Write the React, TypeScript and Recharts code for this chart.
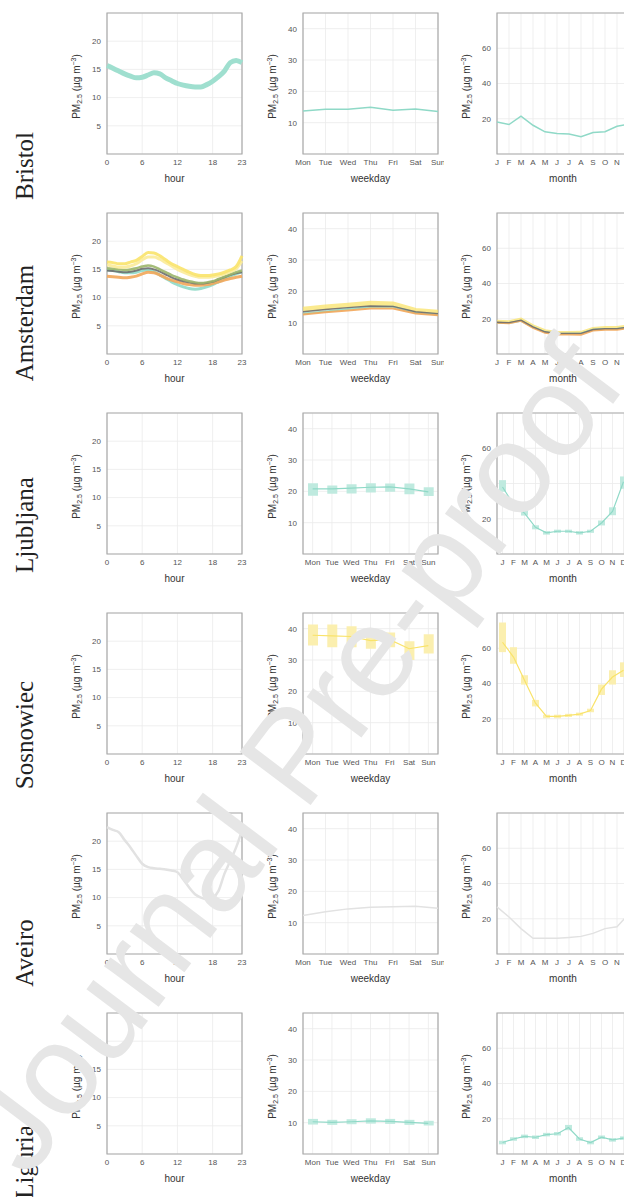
import React from "react";
import {
  ComposedChart,
  Line,
  Bar,
  XAxis,
  YAxis,
  CartesianGrid,
  ReferenceArea,
} from "recharts";

// categories
const hours = [0, 1, 2, 3, 4, 5, 6, 7, 8, 9, 10, 11, 12, 13, 14, 15, 16, 17, 18, 19, 20, 21, 22, 23];
const weekdays = ["Mon", "Tue", "Wed", "Thu", "Fri", "Sat", "Sun"];
const months = ["J", "F", "M", "A", "M", "J", "J", "A", "S", "O", "N", "D"];
const cities = ["Bristol", "Amsterdam", "Ljubljana", "Sosnowiec", "Aveiro", "Liguria"];

// tick labels
const hourTicks = [0, 6, 12, 18, 23];
const hourYTicks = [5, 10, 15, 20];
const weekYTicks = [10, 20, 30, 40];
const monthYTicks = [20, 40, 60];

// Bristol
const bristolHour = [15.7, 15.2, 14.7, 14.2, 13.8, 13.5, 13.6, 14.0, 14.4, 14.2, 13.5, 13.0, 12.5, 12.2, 12.0, 11.9, 11.9, 12.3, 12.9, 13.7, 14.7, 16.2, 16.6, 16.2];
const bristolWeek = [13.7, 14.3, 14.3, 14.9, 14.0, 14.4, 13.6];
const bristolMonth = [18.1, 16.7, 21.5, 16.3, 12.6, 11.7, 11.3, 9.8, 12.2, 12.6, 15.7, 16.9];

// Amsterdam (several stations)
const amsHourYellow = [16.3, 16.2, 16.0, 16.0, 16.3, 16.6, 17.3, 18.0, 17.9, 17.4, 16.7, 16.0, 15.5, 15.0, 14.5, 14.1, 13.9, 13.9, 14.0, 14.2, 14.5, 14.9, 15.5, 17.4];
const amsHourPale = [15.8, 15.6, 15.4, 15.4, 15.6, 16.0, 16.7, 17.2, 17.2, 16.8, 16.2, 15.6, 15.0, 14.5, 14.1, 13.8, 13.6, 13.6, 13.7, 13.9, 14.2, 14.6, 15.1, 16.5];
const amsHourOlive = [15.2, 15.1, 15.0, 14.9, 15.0, 15.2, 15.5, 15.7, 15.5, 15.0, 14.5, 14.0, 13.6, 13.2, 12.9, 12.7, 12.6, 12.7, 12.9, 13.3, 13.7, 14.1, 14.5, 14.8];
const amsHourGray = [14.8, 14.7, 14.6, 14.5, 14.6, 14.8, 15.1, 15.2, 15.0, 14.6, 14.1, 13.6, 13.2, 12.9, 12.7, 12.5, 12.5, 12.6, 12.8, 13.2, 13.6, 14.0, 14.3, 14.5];
const amsHourOrange = [13.8, 13.7, 13.6, 13.5, 13.6, 13.8, 14.2, 14.5, 14.4, 14.0, 13.5, 13.1, 12.8, 12.5, 12.3, 12.2, 12.2, 12.3, 12.5, 12.8, 13.1, 13.4, 13.6, 13.8];
const amsHourTeal = [14.9, 14.8, 14.6, 14.4, 14.4, 14.5, 14.8, 14.9, 14.6, 14.0, 13.4, 12.8, 12.3, 11.9, 11.6, 11.5, 11.6, 11.9, 12.3, 12.8, 13.3, 13.8, 14.2, 14.6];
const amsWeekYellow = [14.3, 15.0, 15.6, 16.2, 16.0, 13.9, 13.3];
const amsWeekTeal = [12.9, 13.6, 14.4, 15.0, 15.1, 13.2, 12.6];
const amsWeekGray = [13.5, 14.2, 14.8, 15.3, 15.2, 13.5, 12.9];
const amsWeekOrange = [12.6, 13.3, 13.9, 14.5, 14.5, 12.9, 12.4];
const amsMonthYellow = [18.6, 18.3, 19.8, 16.0, 13.2, 12.2, 12.2, 12.3, 14.5, 15.0, 15.0, 16.0];
const amsMonthTeal = [17.6, 17.6, 18.8, 15.2, 12.4, 11.4, 11.5, 11.6, 13.8, 14.2, 14.2, 15.2];
const amsMonthGray = [18.0, 17.8, 19.2, 15.4, 12.6, 11.7, 11.7, 11.7, 13.9, 14.4, 14.4, 15.4];
const amsMonthOrange = [17.8, 17.5, 18.8, 14.9, 12.0, 11.0, 11.0, 10.9, 13.3, 13.8, 13.8, 14.8];

// Ljubljana
const ljuWeekMed = [20.8, 20.8, 21.0, 21.3, 21.4, 20.8, 19.8];
const ljuWeekLo = [18.6, 19.2, 19.3, 19.6, 19.9, 19.1, 18.5];
const ljuWeekHi = [22.6, 21.9, 22.3, 22.6, 22.5, 22.5, 21.3];
const ljuMonthMed = [38.0, 28.2, 23.2, 15.1, 12.0, 12.9, 12.9, 12.0, 12.9, 17.6, 24.1, 41.0];
const ljuMonthLo = [35.3, 26.5, 21.8, 14.0, 11.0, 12.0, 12.0, 11.0, 12.0, 16.2, 22.0, 37.0];
const ljuMonthHi = [41.9, 30.0, 24.8, 16.3, 13.0, 13.8, 13.8, 13.0, 13.8, 19.0, 26.5, 44.0];

// Sosnowiec
const sosWeekMed = [37.9, 37.7, 37.5, 36.2, 36.5, 33.6, 34.6];
const sosWeekLo = [34.6, 34.1, 34.1, 33.6, 34.1, 30.0, 32.1];
const sosWeekHi = [41.3, 41.3, 40.8, 38.8, 38.8, 36.0, 38.2];
const sosMonthMed = [63.4, 55.0, 41.9, 28.8, 21.3, 21.3, 21.9, 22.6, 24.7, 36.8, 43.7, 47.5];
const sosMonthLo = [57.8, 51.2, 39.4, 27.0, 20.3, 20.3, 21.0, 21.7, 23.7, 33.5, 39.4, 43.7];
const sosMonthHi = [74.6, 60.6, 44.7, 30.7, 22.3, 22.3, 22.8, 23.5, 25.7, 39.4, 47.5, 52.0];

// Aveiro
const aveHour = [22.5, 22.0, 21.6, 20.2, 18.9, 17.4, 16.0, 15.4, 15.2, 15.1, 15.0, 14.8, 14.5, 13.2, 11.8, 10.6, 10.0, 9.7, 10.0, 11.2, 14.2, 16.5, 18.9, 21.9];
const aveWeek = [12.3, 13.5, 14.4, 14.9, 15.1, 15.2, 14.6];
const aveMonth = [26.7, 21.0, 14.4, 8.9, 8.9, 8.9, 9.4, 10.0, 11.7, 14.4, 15.5, 22.8];

// Liguria
const ligWeekMed = [10.3, 10.1, 10.3, 10.6, 10.4, 10.1, 9.8];
const ligWeekLo = [9.4, 9.3, 9.5, 9.7, 9.6, 9.3, 9.1];
const ligWeekHi = [11.2, 10.9, 11.1, 11.4, 11.2, 10.9, 10.6];
const ligMonthMed = [6.5, 8.5, 10.0, 9.5, 11.0, 11.5, 15.0, 8.5, 6.5, 9.5, 8.0, 9.0];
const ligMonthLo = [5.5, 7.5, 9.0, 8.5, 10.0, 10.5, 13.5, 7.5, 5.5, 8.5, 7.0, 8.0];
const ligMonthHi = [7.5, 9.5, 11.0, 10.5, 12.0, 12.5, 16.5, 9.5, 7.5, 10.5, 9.0, 10.0];

const TEAL = "#8fd9c7";
const TEAL_SOFT = "#9fdfcf";
const TEAL_BOX = "#bfeadf";
const YELLOW = "#f9e36a";
const YELLOW_BOX = "#fbefaf";
const PALE = "#fbeb98";
const ORANGE = "#f2a659";
const OLIVE = "#9bb56a";
const GRAY = "#6e6e6e";
const FADED = "#e2e2e2";

const hourData = hours.map((h, i) => ({
  h,
  bristol: bristolHour[i],
  ay: amsHourYellow[i],
  ap: amsHourPale[i],
  ao: amsHourOlive[i],
  ag: amsHourGray[i],
  aor: amsHourOrange[i],
  at: amsHourTeal[i],
  ave: aveHour[i],
}));

const weekData = weekdays.map((d, i) => ({
  k: i,
  bristol: bristolWeek[i],
  ay: amsWeekYellow[i],
  at: amsWeekTeal[i],
  ag: amsWeekGray[i],
  aor: amsWeekOrange[i],
  lju: ljuWeekMed[i],
  ljuBox: [ljuWeekLo[i], ljuWeekHi[i]],
  sos: sosWeekMed[i],
  sosBox: [sosWeekLo[i], sosWeekHi[i]],
  ave: aveWeek[i],
  lig: ligWeekMed[i],
  ligBox: [ligWeekLo[i], ligWeekHi[i]],
}));

const monthData = months.map((m, i) => ({
  k: i,
  bristol: bristolMonth[i],
  ay: amsMonthYellow[i],
  at: amsMonthTeal[i],
  ag: amsMonthGray[i],
  aor: amsMonthOrange[i],
  lju: ljuMonthMed[i],
  ljuBox: [ljuMonthLo[i], ljuMonthHi[i]],
  sos: sosMonthMed[i],
  sosBox: [sosMonthLo[i], sosMonthHi[i]],
  ave: aveMonth[i],
  lig: ligMonthMed[i],
  ligBox: [ligMonthLo[i], ligMonthHi[i]],
}));

type Series = { key: string; color: string; width: number; opacity?: number };
type Box = { key: string; color: string };

const PLOT_H = 141;
const AXIS_W = 55;
const ROW_TOPS = [13, 213, 413, 613, 813, 1013];

const kinds: Record<string, any> = {
  hour: { left: 107, w: 135, domain: [0, 25], ticks: hourYTicks, title: "hour", data: hourData, barSize: 0 },
  week: { left: 303, w: 135, domain: [0, 45], ticks: weekYTicks, title: "weekday", data: weekData, barSize: 10 },
  month: { left: 497, w: 132, domain: [0, 80], ticks: monthYTicks, title: "month", data: monthData, barSize: 7 },
};

const tickStyle = { fontSize: 8, fill: "#555", fontFamily: "Liberation Sans, Arial, sans-serif" };

const pmLabel = (props: any) => {
  const vb = props.viewBox;
  const cx = vb.x + vb.width - 27;
  const cy = vb.y + vb.height / 2 + 3;
  return (
    <text
      x={cx}
      y={cy}
      transform={`rotate(-90 ${cx} ${cy})`}
      textAnchor="middle"
      fontSize={10}
      fill="#333"
      fontFamily="Liberation Sans, Arial, sans-serif"
    >
      PM
      <tspan fontSize={7} dy={2}>2.5</tspan>
      <tspan dy={-2}> (µg m</tspan>
      <tspan fontSize={7} dy={-4}>−3</tspan>
      <tspan dy={4}>)</tspan>
    </text>
  );
};

const titleLabel = (title: string) => (props: any) => {
  const vb = props.viewBox;
  return (
    <text
      x={vb.x + vb.width / 2}
      y={vb.y + 28}
      textAnchor="middle"
      fontSize={10}
      fill="#333"
      fontFamily="Liberation Sans, Arial, sans-serif"
    >
      {title}
    </text>
  );
};

function Panel({ kind, row, lines = [], boxes = [] }: { kind: string; row: number; lines?: Series[]; boxes?: Box[] }) {
  const g = kinds[kind];
  const top = ROW_TOPS[row];
  const names = kind === "week" ? weekdays : months;
  return (
    <div style={{ position: "absolute", left: g.left - AXIS_W, top: top - 6 }}>
      <ComposedChart
        width={AXIS_W + g.w + 6}
        height={6 + PLOT_H + 40}
        data={g.data}
        margin={{ top: 6, right: 6, bottom: 0, left: 0 }}
      >
        <CartesianGrid stroke="#ebebeb" strokeWidth={0.8} />
        {kind === "hour" ? (
          <XAxis
            dataKey="h"
            type="number"
            domain={[0, 23]}
            ticks={hourTicks}
            height={40}
            tick={tickStyle}
            tickLine={false}
            tickSize={3}
            tickMargin={2}
            axisLine={false}
            label={titleLabel(g.title)}
          />
        ) : (
          <XAxis
            dataKey="k"
            type="category"
            interval={0}
            tickFormatter={(v: number) => names[v]}
            height={40}
            tick={tickStyle}
            tickLine={false}
            tickSize={3}
            tickMargin={2}
            axisLine={false}
            label={titleLabel(g.title)}
          />
        )}
        <YAxis
          type="number"
          domain={g.domain}
          ticks={g.ticks}
          allowDataOverflow
          width={AXIS_W}
          tick={tickStyle}
          tickLine={false}
          tickSize={4}
          tickMargin={2}
          axisLine={false}
          label={pmLabel}
        />
        <ReferenceArea y1={g.domain[0]} y2={g.domain[1]} fill="none" stroke="#a9a9a9" strokeWidth={1.2} ifOverflow="visible" />
        {/* empty panels still need a series so the value axis keeps its ticks */}
        <Line dataKey="none" stroke="none" dot={false} legendType="none" isAnimationActive={false} />
        {boxes.map((b) => (
          <Bar key={b.key} dataKey={b.key} fill={b.color} barSize={g.barSize} isAnimationActive={false} />
        ))}
        {lines.map((s) => (
          <Line
            key={s.key}
            type={kind === "hour" ? "monotone" : "linear"}
            dataKey={s.key}
            stroke={s.color}
            strokeWidth={s.width}
            strokeOpacity={s.opacity ?? 1}
            dot={false}
            isAnimationActive={false}
          />
        ))}
      </ComposedChart>
    </div>
  );
}

const amsLines = (w: number, yw: number): Series[] => [
  { key: "ay", color: YELLOW, width: yw, opacity: 0.75 },
  { key: "at", color: TEAL, width: w, opacity: 0.9 },
  { key: "aor", color: ORANGE, width: w, opacity: 0.9 },
  { key: "ag", color: GRAY, width: w * 0.7, opacity: 0.9 },
];

const LABEL_CENTERS = [166, 323, 525, 735, 953, 1162];

export default function App() {
  return (
    <div
      style={{
        position: "absolute",
        left: 0,
        top: 0,
        width: 624,
        height: 1197,
        overflow: "hidden",
        background: "#fff",
      }}
    >
      {cities.map((c, i) => (
        <div
          key={c}
          style={{
            position: "absolute",
            left: 25,
            top: LABEL_CENTERS[i],
            transform: "translate(-50%, -50%) rotate(-90deg)",
            whiteSpace: "nowrap",
            fontFamily: "Liberation Serif, Times New Roman, serif",
            fontSize: 25,
            color: "#222",
          }}
        >
          {c}
        </div>
      ))}

      <Panel kind="hour" row={0} lines={[{ key: "bristol", color: TEAL_SOFT, width: 5 }]} />
      <Panel kind="week" row={0} lines={[{ key: "bristol", color: TEAL, width: 1.5 }]} />
      <Panel kind="month" row={0} lines={[{ key: "bristol", color: TEAL, width: 1.5 }]} />

      <Panel
        kind="hour"
        row={1}
        lines={[
          { key: "at", color: TEAL, width: 3, opacity: 0.9 },
          { key: "aor", color: ORANGE, width: 3, opacity: 0.9 },
          { key: "ag", color: GRAY, width: 2, opacity: 0.9 },
          { key: "ao", color: OLIVE, width: 2.5, opacity: 0.9 },
          { key: "ap", color: PALE, width: 3, opacity: 0.9 },
          { key: "ay", color: YELLOW, width: 3, opacity: 0.9 },
        ]}
      />
      <Panel kind="week" row={1} lines={amsLines(2, 5)} />
      <Panel kind="month" row={1} lines={amsLines(2, 3)} />

      <Panel kind="hour" row={2} />
      <Panel kind="week" row={2} boxes={[{ key: "ljuBox", color: TEAL_BOX }]} lines={[{ key: "lju", color: TEAL, width: 1.2 }]} />
      <Panel kind="month" row={2} boxes={[{ key: "ljuBox", color: TEAL_BOX }]} lines={[{ key: "lju", color: TEAL, width: 1.2 }]} />

      <Panel kind="hour" row={3} />
      <Panel kind="week" row={3} boxes={[{ key: "sosBox", color: YELLOW_BOX }]} lines={[{ key: "sos", color: YELLOW, width: 1.2 }]} />
      <Panel kind="month" row={3} boxes={[{ key: "sosBox", color: YELLOW_BOX }]} lines={[{ key: "sos", color: YELLOW, width: 1.2 }]} />

      <Panel kind="hour" row={4} lines={[{ key: "ave", color: FADED, width: 2.5 }]} />
      <Panel kind="week" row={4} lines={[{ key: "ave", color: FADED, width: 1.5 }]} />
      <Panel kind="month" row={4} lines={[{ key: "ave", color: FADED, width: 1.5 }]} />

      <Panel kind="hour" row={5} />
      <Panel kind="week" row={5} boxes={[{ key: "ligBox", color: TEAL_BOX }]} lines={[{ key: "lig", color: TEAL, width: 1.2 }]} />
      <Panel kind="month" row={5} boxes={[{ key: "ligBox", color: TEAL_BOX }]} lines={[{ key: "lig", color: TEAL, width: 1.2 }]} />

      <svg
        width={624}
        height={1197}
        style={{ position: "absolute", left: 0, top: 0, pointerEvents: "none" }}
      >
        <text
          x={0}
          y={0}
          transform="translate(328 782) rotate(-53)"
          textAnchor="middle"
          fontSize={129}
          fill="#e6e6e6"
          fontFamily="Liberation Sans, Arial, sans-serif"
        >
          Journal Pre-proof
        </text>
      </svg>
    </div>
  );
}
